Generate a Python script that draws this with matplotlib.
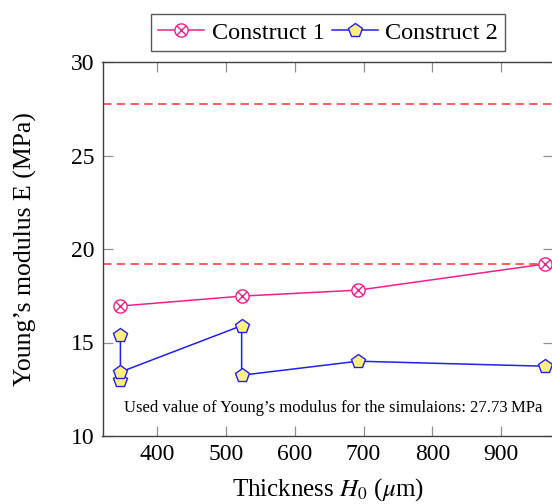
import matplotlib
matplotlib.use("Agg")
import matplotlib.pyplot as plt
from matplotlib.path import Path

# thickness H0 (um) and Young's modulus E (MPa)
thick_c1 = [347, 523, 692, 964]
E_c1 = [16.95, 17.48, 17.8, 19.2]

thick_c2 = [347, 347, 347, 523, 523, 692, 964]
E_c2 = [15.4, 13.0, 13.42, 15.9, 13.25, 14.0, 13.73]

E_used = 27.73
E_max_c1 = 19.2

xticks = [400, 500, 600, 700, 800, 900]
yticks = [10, 15, 20, 25, 30]

plt.rcParams['font.family'] = ['Liberation Serif', 'DejaVu Serif']
plt.rcParams['mathtext.fontset'] = 'stix'

# circle with a cross inside (otimes)
s = 0.7071
otimes = Path.make_compound_path(
    Path.unit_circle(),
    Path([(-s, -s), (s, s)], [Path.MOVETO, Path.LINETO]),
    Path([(-s, s), (s, -s)], [Path.MOVETO, Path.LINETO]),
)

fig = plt.figure(figsize=(5.52, 5.04), dpi=100)
ax = fig.add_axes([102.5 / 552, 68 / 504, 450.5 / 552, 374 / 504])

ax.axhline(E_used, color='#ff3030', lw=1.1, ls=(0, (5.5, 3.5)), zorder=1)
ax.axhline(E_max_c1, color='#ff3030', lw=1.1, ls=(0, (5.5, 3.5)), zorder=1)

ax.plot(thick_c1, E_c1, color='#f0208a', lw=1.1, marker=otimes, ms=9.5,
        mfc='white', mec='#f0208a', mew=1.0, label='Construct 1', zorder=3)
ax.plot(thick_c2, E_c2, color='#2020f0', lw=1.1, marker='p', ms=10.5,
        mfc='#fff080', mec='#2020f0', mew=1.0, label='Construct 2', zorder=3)

ax.set_xlim(321, 975)
ax.set_ylim(10, 30)
ax.set_xticks(xticks)
ax.set_yticks(yticks)
ax.tick_params(direction='in', length=7, width=0.9, color='#909090',
               top=True, right=True, labelsize=17, pad=6)
for sp in ax.spines.values():
    sp.set_color('#404040')
    sp.set_linewidth(1.0)

ax.set_xlabel(r'Thickness $H_0$ ($\mu$m)', fontsize=18, labelpad=8)
ax.set_ylabel("Young\u2019s modulus E (MPa)", fontsize=18.5, labelpad=24)

ax.text(0.976, 0.075, 'Used value of Young\u2019s modulus for the simulaions: 27.73\u2009MPa',
        transform=ax.transAxes, ha='right', va='center', fontsize=12)

leg = ax.legend(loc='lower center', bbox_to_anchor=(328 / 552, (504 - 51) / 504),
                bbox_transform=fig.transFigure, ncol=2, fontsize=17.5,
                frameon=True, fancybox=False, edgecolor='#303030',
                handlelength=1.9, handletextpad=0.3, columnspacing=0.3,
                borderpad=0.3, borderaxespad=0)
leg.get_frame().set_linewidth(1.0)

fig.savefig('out.png', dpi=100)
